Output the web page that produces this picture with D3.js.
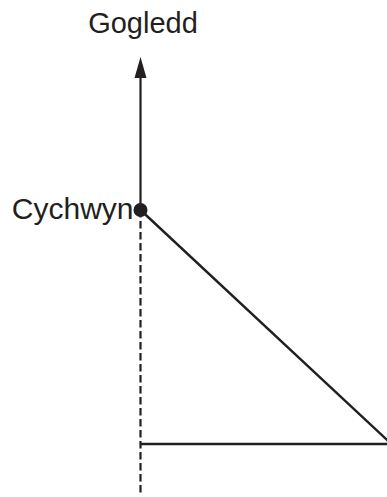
<!DOCTYPE html>
<html>
<head>
<meta charset="utf-8">
<script src="https://cdn.jsdelivr.net/npm/d3@7"></script>
<style>
  html, body { margin: 0; padding: 0; background: #fff; }
  svg { display: block; }
  text { font-family: "Liberation Sans", Arial, Helvetica, sans-serif; fill: #231f20; }
</style>
</head>
<body>
<svg id="chart" width="387" height="497"></svg>
<script>
// Diagram data (abstract distance units, start point = origin)
const labelNorth = "Gogledd";
const labelStart = "Cychwyn";
const pathEast = [0, 251];      // eastward displacement along the route
const pathNorth = [0, -234];    // northward displacement along the route
const northAxisExtent = [0, 153];   // north arrow, from start
const dashedExtent = [0, -286];     // dashed reference line below start

const W = 387, H = 497;
const ink = "#231f20";
const svg = d3.select("#chart");

const x = d3.scaleLinear().domain([0, 251]).range([140.5, 391.5]);
const y = d3.scaleLinear().domain([0, -234]).range([210, 444]);

// dashed line below start
svg.append("line")
  .attr("x1", x(0)).attr("x2", x(0))
  .attr("y1", y(dashedExtent[0])).attr("y2", y(dashedExtent[1]))
  .attr("stroke", ink).attr("stroke-width", 2.2)
  .attr("stroke-dasharray", "7.5,3.5");

// north axis with arrow
const arrowLen = 21, arrowHalf = 6;
svg.append("line")
  .attr("x1", x(0)).attr("x2", x(0))
  .attr("y1", y(northAxisExtent[0])).attr("y2", y(northAxisExtent[1]) + arrowLen - 2)
  .attr("stroke", ink).attr("stroke-width", 2.2);
const tipY = y(northAxisExtent[1]);
svg.append("path")
  .attr("d", `M${x(0)},${tipY} L${x(0) - arrowHalf},${tipY + arrowLen} L${x(0) + arrowHalf},${tipY + arrowLen} Z`)
  .attr("fill", ink);

// route: diagonal then horizontal back
const route = [[pathEast[0], pathNorth[0]], [pathEast[1], pathNorth[1]], [pathEast[0], pathNorth[1]]];
svg.append("path")
  .attr("d", d3.line().x(d => x(d[0])).y(d => y(d[1]))(route))
  .attr("fill", "none").attr("stroke", ink).attr("stroke-width", 2.4);

// start dot
svg.append("circle")
  .attr("cx", x(0)).attr("cy", y(0)).attr("r", 7)
  .attr("fill", ink);

// labels
svg.append("text")
  .attr("x", x(0) + 2.5).attr("y", 33)
  .attr("text-anchor", "middle")
  .attr("font-size", 29)
  .text(labelNorth);

svg.append("text")
  .attr("x", x(0) - 7).attr("y", y(0) + 9)
  .attr("text-anchor", "end")
  .attr("font-size", 30)
  .text(labelStart);
</script>
</body>
</html>
